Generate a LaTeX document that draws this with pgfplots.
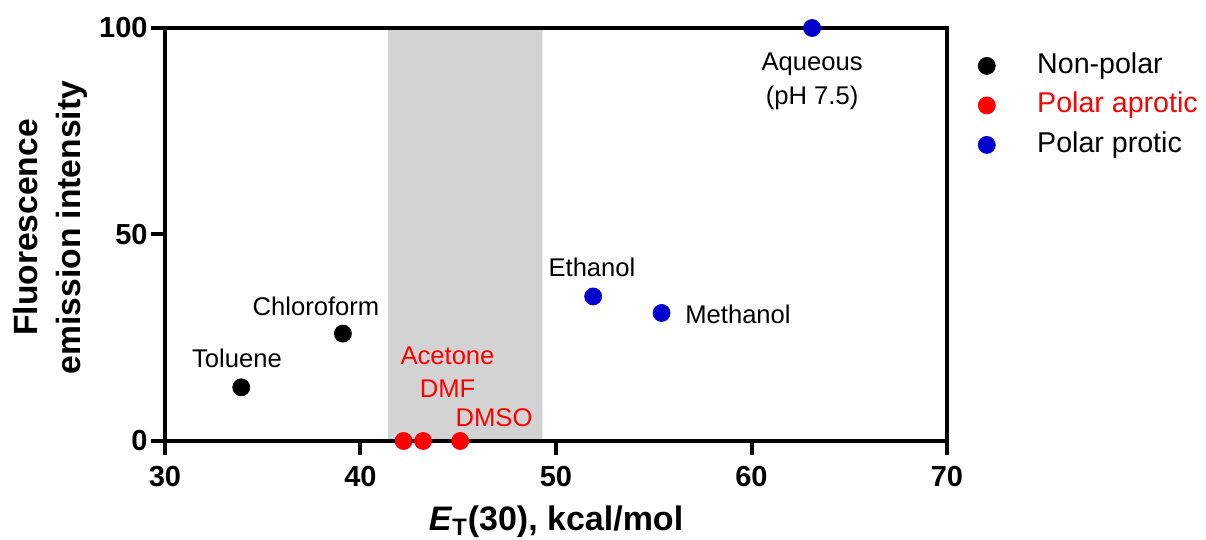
\documentclass[border=0pt]{standalone}
\usepackage{pgfplots}
\pgfplotsset{compat=1.18}
\usepackage{fontspec}
\setmainfont{Liberation Sans}
\definecolor{aprotic}{RGB}{255,0,0}
\definecolor{protic}{RGB}{0,0,204}
\definecolor{band}{RGB}{211,211,211}
\tikzset{annot/.style={font=\fontsize{12.8}{17}\selectfont,align=center,inner sep=0pt}}
\begin{document}
\begin{tikzpicture}
\begin{axis}[at={(0,0)},anchor=south west,scale only axis,width=391pt,height=206.5pt,
  xmin=30,xmax=70,ymin=0,ymax=100,xtick={30,40,...,70},ytick={0,50,100},
  set layers=standard,clip=false,axis line style={line width=2pt},
  tick style={line width=2pt,black},tick align=outside,major tick length=7pt,
  xtick pos=bottom,ytick pos=left,
  /pgf/number format/assume math mode=true,
  tick label style={font=\fontsize{14.5}{17}\selectfont\bfseries},
  xticklabel style={inner ysep=1pt,yshift=-4.5pt},yticklabel style={inner xsep=1.5pt},
  xlabel={\textit{E}\textsubscript{T}(30), kcal/mol},
  xlabel style={font=\fontsize{17}{20}\selectfont\bfseries,at={(axis description cs:0.5,-0.216)},anchor=base},
  ylabel={Fluorescence\\emission intensity},
  ylabel style={font=\fontsize{16.8}{21.5}\selectfont\bfseries,align=center,at={(axis description cs:-0.147,0.517)},anchor=center},
  legend style={at={(axis description cs:1,1)},anchor=north west,xshift=8pt,yshift=-10pt,draw=none,fill=none,
    font=\fontsize{14.3}{17}\selectfont,row sep=6.25pt,nodes={inner ysep=0pt,text height=10.5pt,text depth=3pt}},
  legend cell align=left,
  legend image code/.code={\path (0pt,0pt) (31.5pt,0pt); \draw[#1] plot coordinates {(8.5pt,0pt)};}]
\addplot[on layer=axis background,fill=band,draw=none,forget plot] coordinates {(41.4,0) (41.4,100) (49.3,100) (49.3,0)} \closedcycle;
\addplot[only marks,mark=*,black,mark size=4.25pt] coordinates {(33.9,13) (39.1,26)};
\addplot[only marks,mark=*,aprotic,mark size=4.25pt] coordinates {(42.2,0) (43.2,0) (45.1,0)};
\addplot[only marks,mark=*,protic,mark size=4.25pt] coordinates {(51.9,35) (55.4,31) (63.1,100)};
\legend{Non-polar,\textcolor{aprotic}{Polar aprotic},Polar protic}
\node[annot] at (axis cs:33.68,20.1) {Toluene};
\node[annot] at (axis cs:37.72,32.7) {Chloroform};
\node[annot,aprotic] at (axis cs:44.45,20.6) {Acetone};
\node[annot,aprotic] at (axis cs:44.45,12.6) {DMF};
\node[annot,aprotic] at (axis cs:46.83,5.6) {DMSO};
\node[annot] at (axis cs:51.84,42.1) {Ethanol};
\node[annot] at (axis cs:59.31,30.7) {Methanol};
\node[annot] at (axis cs:63.1,87.0) {Aqueous\\(pH 7.5)};
\end{axis}
\pgfresetboundingbox
\useasboundingbox (-82.5pt,-49.5pt) rectangle (520.5pt,220.5pt);
\end{tikzpicture}
\end{document}
